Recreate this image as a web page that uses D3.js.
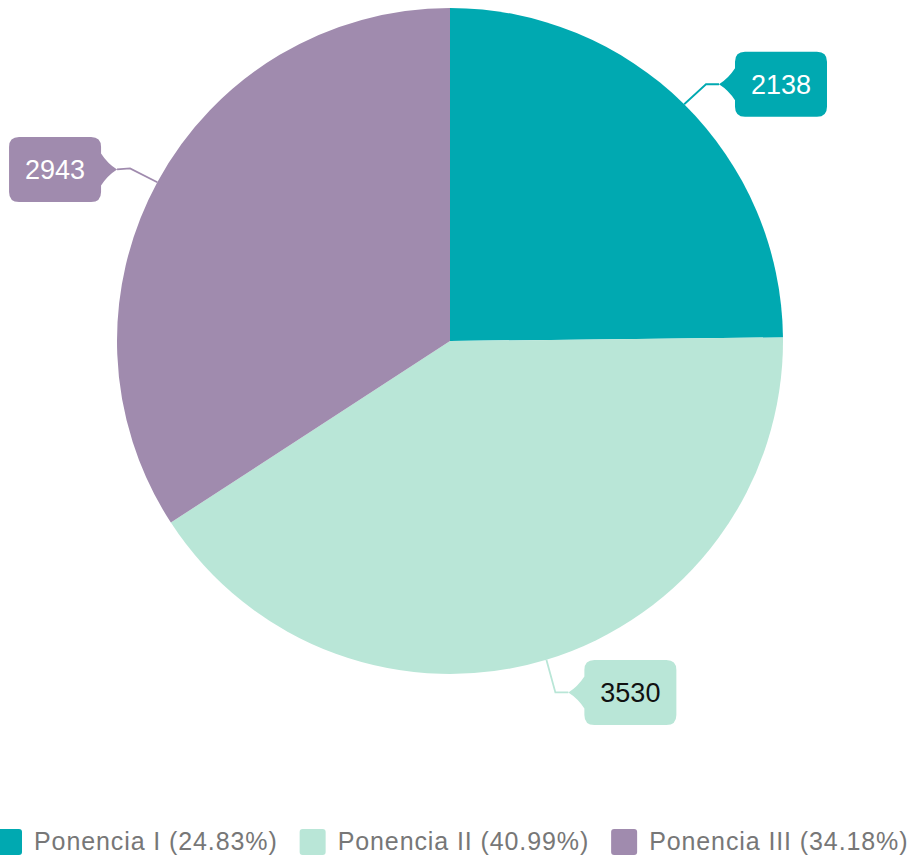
<!DOCTYPE html>
<html>
<head>
<meta charset="utf-8">
<script src="https://cdnjs.cloudflare.com/ajax/libs/d3/7.8.5/d3.min.js"></script>
<style>
  body { margin:0; background:#fff; overflow:hidden; }
  svg { display:block; font-family:"Liberation Sans", Arial, sans-serif; }
</style>
</head>
<body>
<div id="chart"></div>
<script>
//data
var categories = ["Ponencia I","Ponencia II","Ponencia III"];
var values = [2138, 3530, 2943];
var percents = ["24.83%","40.99%","34.18%"];
var colors = ["#00A9B1","#B9E6D7","#A08BAE"];
var labelText = ["#ffffff","#111111","#ffffff"];

var W = 911, H = 861, cx = 450, cy = 341, R = 333;

var svg = d3.select("#chart").append("svg")
  .attr("width", W)
  .attr("height", H);

var pie = d3.pie().sort(null).value(function(d){ return d; });
var arc = d3.arc().innerRadius(0).outerRadius(R);
var arcs = pie(values);

var g = svg.append("g").attr("transform","translate("+cx+","+cy+")");

g.selectAll("path.slice").data(arcs).enter().append("path")
  .attr("class","slice")
  .attr("d", arc)
  .style("fill", function(d,i){ return colors[i]; });

//labels with leader lines
var bw = 92, bh = 65, tip = 16, rr = 10;
function labelBox(side){
  //path of the callout, tip at 0,0
  var s = side, x0 = s*tip, x1 = s*(tip+bw), y0 = -bh/2, y1 = bh/2;
  var p = d3.path();
  p.moveTo(0,0);
  p.quadraticCurveTo(s*tip*0.6, -6, x0, -16);
  p.lineTo(x0, y0+rr);
  p.quadraticCurveTo(x0, y0, x0+s*rr, y0);
  p.lineTo(x1-s*rr, y0);
  p.quadraticCurveTo(x1, y0, x1, y0+rr);
  p.lineTo(x1, y1-rr);
  p.quadraticCurveTo(x1, y1, x1-s*rr, y1);
  p.lineTo(x0+s*rr, y1);
  p.quadraticCurveTo(x0, y1, x0, y1-rr);
  p.lineTo(x0, 16);
  p.quadraticCurveTo(s*tip*0.6, 6, 0, 0);
  return p.toString();
}

var nudge = [2, 3, 1];
var lab = g.selectAll("g.lab").data(arcs).enter().append("g").attr("class","lab");
lab.each(function(d,i){
  var a = (d.startAngle + d.endAngle)/2;
  var sx = Math.sin(a), sy = -Math.cos(a);
  var side = sx >= 0 ? 1 : -1;
  var e = [sx*R, sy*R];
  var k = [sx*(R+31), sy*(R+31)+nudge[i]];
  var t = [k[0]+side*13, k[1]+(i==2 ? 1 : 0)];
  var sel = d3.select(this);
  sel.append("path")
    .attr("d", "M"+e[0]+","+e[1]+"L"+k[0]+","+k[1]+"L"+t[0]+","+t[1])
    .style("fill","none").style("stroke",colors[i]).style("stroke-width",1.8);
  sel.append("path")
    .attr("transform","translate("+t[0]+","+t[1]+")")
    .attr("d", labelBox(side))
    .style("fill",colors[i]);
  sel.append("text")
    .attr("x", t[0]+side*(tip+bw/2))
    .attr("y", t[1])
    .attr("dy","0.35em")
    .attr("text-anchor","middle")
    .style("font-size","27px")
    .style("fill",labelText[i])
    .text(values[i]);
});

//legend
var leg = svg.append("g").attr("class","legend");
var lx = -4, ly = 829;
categories.forEach(function(c,i){
  leg.append("rect")
    .attr("x", lx).attr("y", ly)
    .attr("width", 26).attr("height", 26)
    .attr("rx", 3)
    .style("fill", colors[i]);
  var t = leg.append("text")
    .attr("x", lx+38).attr("y", ly+21)
    .style("font-size","25px")
    .style("letter-spacing","0.9px")
    .style("fill","#777")
    .text(c+" ("+percents[i]+")");
  lx = lx + 38 + t.node().getComputedTextLength() + 22;
});
</script>
</body>
</html>
